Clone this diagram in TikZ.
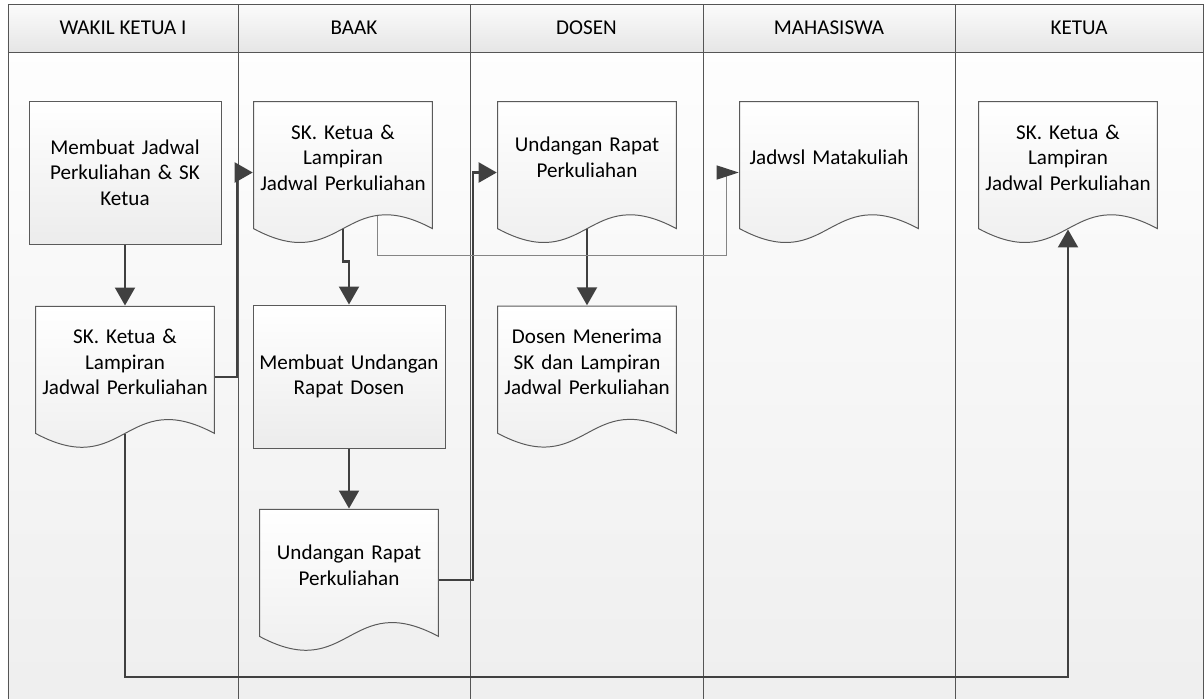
\documentclass[tikz,border=0pt]{standalone}
\usepackage{fontspec}
\setmainfont{Carlito}
\usetikzlibrary{positioning,arrows.meta,calc}
\definecolor{laneBorder}{HTML}{555555}
\definecolor{shapeBorder}{HTML}{5A5A5A}
\definecolor{connColor}{HTML}{404040}
\definecolor{thinConn}{HTML}{858585}
\newcommand{\docgap}{\endgraf\vspace*{0.75cm}}

\begin{document}
\begin{tikzpicture}[
    font=\fontsize{15}{18.2}\selectfont,
    lanehead/.style={
        rectangle, draw=laneBorder, line width=0.7pt,
        top color=gray!3, bottom color=gray!20,
        minimum height=1.2cm, inner sep=0pt
    },
    lanebody/.style={draw=laneBorder, line width=0.7pt, top color=gray!1, bottom color=gray!13},
    proc/.style={
        rectangle, draw=shapeBorder, line width=0.7pt,
        top color=white, bottom color=gray!15,
        minimum width=4.8cm, minimum height=3.575cm,
        text width=4.6cm, align=center, inner sep=0pt
    },
    doc/.style={
        rectangle, minimum width=4.5cm, minimum height=3.575cm,
        text width=4.4cm, align=center, inner sep=0pt,
        execute at end node=\docgap,
        path picture={
            \coordinate (pp_sw) at ($(path picture bounding box.south west)+(0.4pt,0.4pt)$);
            \coordinate (pp_ne) at ($(path picture bounding box.north east)+(-0.4pt,-0.4pt)$);
            \shadedraw[draw=shapeBorder, line width=0.7pt, top color=white, bottom color=gray!15]
                (pp_sw |- pp_ne) -- (pp_ne) -- ($(pp_ne |- pp_sw)+(0,0.37)$)
                .. controls ($(pp_sw)!0.5!(pp_ne |- pp_sw)+(0,1.57)$) and ($(pp_sw)!0.5!(pp_ne |- pp_sw)+(0,-0.83)$)
                .. ($(pp_sw)+(0,0.37)$) -- cycle;
        }
    },
    arrow/.style={draw=connColor, line width=1.5pt, -{Triangle[length=0.45cm, width=0.5cm]}},
    thinarrow/.style={draw=thinConn, line width=0.8pt, -{Triangle[length=0.55cm, width=0.35cm, color=connColor]}}
]
  \useasboundingbox (0,0) rectangle (30.1,-17.45);

  % Swimlanes
  \foreach \xa/\xb/\lanename [count=\i] in {0.2/5.95/WAKIL KETUA I, 5.95/11.75/BAAK,
      11.75/17.575/DOSEN, 17.575/23.875/MAHASISWA, 23.875/30.08/KETUA} {
    \draw[lanebody] (\xa,-1.3) rectangle (\xb,-17.7);
    \node[lanehead, minimum width={(\xb-\xa)*1cm}] (lane\i) at ({(\xa+\xb)/2},-0.7) {\lanename};
  }

  % WAKIL KETUA I
  \node[proc] (proc_jadwal) at (3.125,-4.3125) {Membuat Jadwal\\Perkuliahan \& SK\\Ketua};
  \node[doc, below=1.525cm of proc_jadwal] (doc_sk_wakil) {SK. Ketua \&\\Lampiran\\Jadwal Perkuliahan};

  % BAAK
  \node[doc] (doc_sk_baak) at (8.575,-4.3125) {SK. Ketua \&\\Lampiran\\Jadwal Perkuliahan};
  \node[proc] (proc_undangan) at (8.725,-9.4125) {Membuat Undangan\\Rapat Dosen};
  \node[doc, below=1.5cm of proc_undangan] (doc_und_baak) {Undangan Rapat\\Perkuliahan};

  % DOSEN
  \node[doc] (doc_und_dosen) at (14.675,-4.3125) {Undangan Rapat\\Perkuliahan};
  \node[doc, below=1.525cm of doc_und_dosen] (doc_dosen_terima) {Dosen Menerima\\SK dan Lampiran\\Jadwal Perkuliahan};

  % MAHASISWA
  \node[doc] (doc_jadwal_mhs) at (20.725,-4.3125) {Jadwsl Matakuliah};

  % KETUA
  \node[doc] (doc_sk_ketua) at (26.7,-4.3125) {SK. Ketua \&\\Lampiran\\Jadwal Perkuliahan};

  % Flow
  \draw[arrow] (proc_jadwal.south) -- (proc_jadwal.south |- doc_sk_wakil.north);
  \draw[arrow] (doc_sk_wakil.east) -- ++(0.55,0) |- (doc_sk_baak.west);
  \draw[arrow] ($(doc_sk_baak.south)+(0,0.37)$) -- ++(0,-0.8) -| (proc_undangan.north);
  \draw[arrow] (proc_undangan.south) -- (doc_und_baak.north);
  \draw[arrow] (doc_und_baak.east) -- ++(0.84,0) |- (doc_und_dosen.west);
  \draw[arrow] ($(doc_und_dosen.south)+(0,0.37)$) -- (doc_dosen_terima.north);
  \draw[thinarrow] ($(doc_sk_baak.south west)!0.69!(doc_sk_baak.south east)+(0,0.7)$) -- ++(0,-0.97)
      -| ($(doc_jadwal_mhs.west)+(-0.3,0)$) -- (doc_jadwal_mhs.west);
  \draw[arrow] ($(doc_sk_wakil.south)+(0,0.37)$) -- ++(0,-6.075) -| ($(doc_sk_ketua.south)+(0,0.37)$);

\end{tikzpicture}
\end{document}
